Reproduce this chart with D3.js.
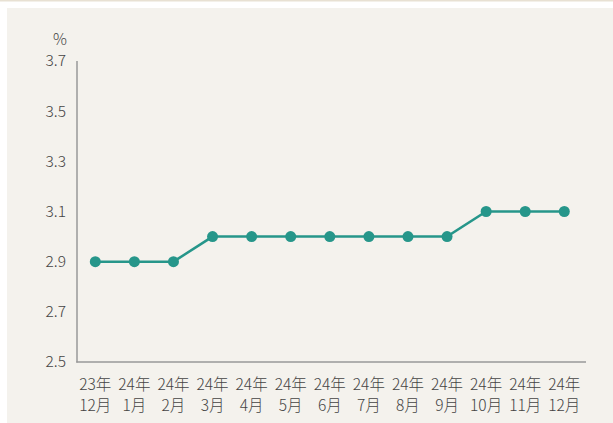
<!DOCTYPE html>
<html><head><meta charset="utf-8">
<script src="https://cdn.jsdelivr.net/npm/d3@7"></script>
<style>
html,body{margin:0;padding:0;background:#fff;}
svg{display:block;}
text{font-family:"Noto Sans CJK SC","Noto Sans",sans-serif;}
</style></head>
<body>
<svg id="c" width="613" height="423"></svg>
<script>
const yearLabels = ["23年","24年","24年","24年","24年","24年","24年","24年","24年","24年","24年","24年","24年"];
const monthLabels = ["12月","1月","2月","3月","4月","5月","6月","7月","8月","9月","10月","11月","12月"];
const values = [2.9,2.9,2.9,3.0,3.0,3.0,3.0,3.0,3.0,3.0,3.1,3.1,3.1];
const yTicks = [2.5,2.7,2.9,3.1,3.3,3.5,3.7];
const unitLabel = "%";

const svg = d3.select("#c");
svg.append("rect").attr("x",0).attr("y",0).attr("width",613).attr("height",1.5).attr("fill","#e8e1d3");
svg.append("rect").attr("x",7).attr("y",8).attr("width",606).attr("height",415).attr("fill","#f4f2ed");

const idx = values.map((d,i)=>i);
const x = d3.scalePoint().domain(idx).range([95.3,564.3]);
const y = d3.scaleLinear().domain([2.5,3.7]).range([362,61]);

const axisColor = "#999";
const fs = 15.5;
svg.append("line").attr("x1",77).attr("x2",77).attr("y1",61).attr("y2",362.5).attr("stroke",axisColor).attr("stroke-width",1.5);
svg.append("line").attr("x1",76.25).attr("x2",586).attr("y1",362).attr("y2",362).attr("stroke",axisColor).attr("stroke-width",1.5);

const yAxis = d3.axisLeft(y).tickValues(yTicks).tickSize(0).tickPadding(11).tickFormat(d3.format(".1f"));
const gy = svg.append("g").attr("transform","translate(77,0)").call(yAxis);
gy.select(".domain").remove();
gy.selectAll("text").attr("font-size",fs).attr("fill","#444").attr("font-weight",300)
  .style("font-family",'"Noto Sans CJK SC","Noto Sans",sans-serif');

svg.append("text").attr("x",60).attr("y",38).attr("text-anchor","middle").attr("dominant-baseline","central")
  .attr("font-size",fs).attr("fill","#444").attr("font-weight",300).text(unitLabel);

const xl = svg.append("g");
idx.forEach(i=>{
  const t = xl.append("text").attr("x",x(i)).attr("text-anchor","middle").attr("font-size",fs).attr("fill","#444").attr("font-weight",300);
  t.append("tspan").attr("x",x(i)).attr("y",390).text(yearLabels[i]);
  t.append("tspan").attr("x",x(i)).attr("y",411).text(monthLabels[i]);
});

const teal = "#26968a";
svg.append("path").datum(values).attr("fill","none").attr("stroke",teal).attr("stroke-width",2.5)
  .attr("d",d3.line().x((d,i)=>x(i)).y(d=>y(d)));
svg.append("g").selectAll("circle").data(values).join("circle")
  .attr("cx",(d,i)=>x(i)).attr("cy",d=>y(d)).attr("r",5.5).attr("fill",teal);
</script>
</body></html>
